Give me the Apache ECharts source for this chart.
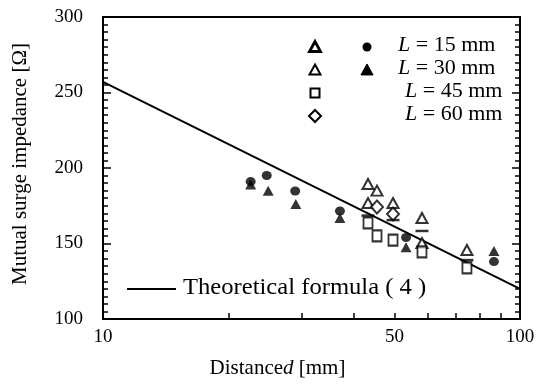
<!DOCTYPE html>
<html><head><meta charset="utf-8">
<script src="https://cdn.jsdelivr.net/npm/echarts@6/dist/echarts.min.js"></script>
<style>html,body{margin:0;padding:0;background:#fff}#c{width:543px;height:385px}</style>
</head><body><div id="c"></div>
<script>
// Data (distance d [mm], impedance [Ω])
const openTri30 = [[43.2,189.4],[45.4,185],[43.2,176.8],[49.6,176.8],[58.2,166.9],[58.2,150.3],[74.6,145.7]];
const filledTri30 = [[22.6,189],[24.9,185],[29.0,176.2],[37.0,166.9],[53.3,147.5],[86.6,145]];
const filledCircle15 = [[22.6,191],[24.7,195],[28.9,184.8],[37.0,171.5],[53.3,154],[86.6,138]];
const squares45 = [[43.2,163.6],[45.4,155],[49.6,152.3],[58.2,144.4],[74.6,133.8]];
const diamonds60 = [[45.4,174.2],[49.6,169.5]];
const dashes15 = [[43.2,168.5],[49.6,165.5],[58.2,158.3],[74.6,139]];
const theory = [[10,257],[100,120]];
const xTicks = [10,20,30,40,50,60,70,80,90,100];
const xLabels = [10,50,100];

const FONT = '"Liberation Serif","DejaVu Serif",serif';
const chart = echarts.init(document.getElementById('c'));
const gridL=103, gridR=23, gridT=17, gridB=66;

function legendText(x,y,txt){
  return {type:'text', left:x, top:y-13, style:{text:'{i|L} = '+txt, fontFamily:FONT, fontSize:22, fill:'#000',
    rich:{i:{fontStyle:'italic', fontFamily:FONT, fontSize:22}}}};
}
function tri(cx,cy,s,fill,lw){
  return {type:'polygon', shape:{points:[[cx,cy-s*0.55],[cx+s*0.55,cy+s*0.45],[cx-s*0.55,cy+s*0.45]]},
    style:{fill:fill, stroke:'#000', lineWidth:lw}};
}
const c1=315, c2=367;
const rows=[47,70,93,116];

chart.setOption({
  animation:false,
  backgroundColor:'#fff',
  grid:{left:gridL,right:gridR,top:gridT,bottom:gridB},
  xAxis:[{
    type:'log', logBase:10, min:10, max:100,
    name:'Distance{i|d} [mm]', nameLocation:'middle', nameGap:39,
    nameTextStyle:{fontFamily:FONT, fontSize:21, color:'#000', padding:[0,68,0,0], rich:{i:{fontStyle:'italic', fontFamily:FONT, fontSize:21}}},
    axisLine:{show:true, lineStyle:{color:'#000', width:2}},
    axisTick:{show:true, inside:true, length:6, lineStyle:{color:'#000', width:1.5}, customValues:xTicks},
    axisLabel:{fontFamily:FONT, fontSize:19, color:'#000', margin:9, customValues:xLabels},
    splitLine:{show:false}, minorTick:{show:false}
  },{
    type:'log', logBase:10, min:10, max:100, position:'top',
    axisLine:{show:true, lineStyle:{color:'#000', width:2}},
    axisTick:{show:false}, axisLabel:{show:false}, splitLine:{show:false}
  }],
  yAxis:[{
    type:'value', min:100, max:300, interval:50,
    name:'Mutual surge impedance [Ω]', nameLocation:'middle', nameGap:72, nameRotate:90,
    nameTextStyle:{fontFamily:FONT, fontSize:21, color:'#000', padding:[0,0,0,8]},
    axisLine:{show:true, lineStyle:{color:'#000', width:2}},
    axisTick:{show:true, inside:true, length:8, lineStyle:{color:'#000', width:1.5}},
    minorTick:{show:true, splitNumber:10, length:5, lineStyle:{color:'#000', width:1.5}},
    axisLabel:{fontFamily:FONT, fontSize:19, color:'#000', margin:20},
    splitLine:{show:false}
  },{
    type:'value', min:100, max:300, interval:50, position:'right',
    axisLine:{show:true, lineStyle:{color:'#000', width:2}},
    axisTick:{show:true, inside:true, length:8, lineStyle:{color:'#000', width:1.5}},
    minorTick:{show:true, splitNumber:10, length:5, lineStyle:{color:'#000', width:1.5}},
    axisLabel:{show:false}, splitLine:{show:false}
  }],
  series:[
    {type:'line', data:theory, symbol:'none', lineStyle:{color:'#000', width:2}, z:1},
    {type:'scatter', data:filledCircle15, symbol:'circle', symbolSize:[10,9], itemStyle:{color:'#000'}},
    {type:'scatter', data:filledTri30, symbol:'triangle', symbolSize:[11,10], itemStyle:{color:'#000'}},
    {type:'scatter', data:openTri30, symbol:'triangle', symbolSize:[11,10], itemStyle:{color:'#fff', borderColor:'#000', borderWidth:2}},
    {type:'scatter', data:squares45, symbol:'rect', symbolSize:[9,11], itemStyle:{color:'#fff', borderColor:'#000', borderWidth:2}},
    {type:'scatter', data:diamonds60, symbol:'diamond', symbolSize:[12,13], itemStyle:{color:'#fff', borderColor:'#000', borderWidth:2}},
    {type:'scatter', data:dashes15, symbol:'rect', symbolSize:[13,2.5], itemStyle:{color:'#000'}}
  ],
  graphic:[
    tri(c1,rows[0],10,'#fff',2.8),
    {type:'circle', shape:{cx:c2, cy:rows[0], r:4.5}, style:{fill:'#000'}},
    legendText(398,rows[0],'15 mm'),
    tri(c1,rows[1],10,'#fff',2),
    tri(c2,rows[1],11,'#000',1),
    legendText(398,rows[1],'30 mm'),
    {type:'rect', shape:{x:c1-4.5, y:rows[2]-4.5, width:9, height:9}, style:{fill:'#fff', stroke:'#000', lineWidth:2}},
    legendText(405,rows[2],'45 mm'),
    {type:'polygon', shape:{points:[[c1,rows[3]-6],[c1+6,rows[3]],[c1,rows[3]+6],[c1-6,rows[3]]]}, style:{fill:'#fff', stroke:'#000', lineWidth:2}},
    legendText(405,rows[3],'60 mm'),
    {type:'line', shape:{x1:127, y1:289, x2:176, y2:289}, style:{stroke:'#000', lineWidth:2}},
    {type:'text', x:183, y:276, scaleX:1.07, style:{text:'Theoretical formula ( 4 )', fontFamily:FONT, fontSize:23, fill:'#000'}}
  ]
});
</script></body></html>
